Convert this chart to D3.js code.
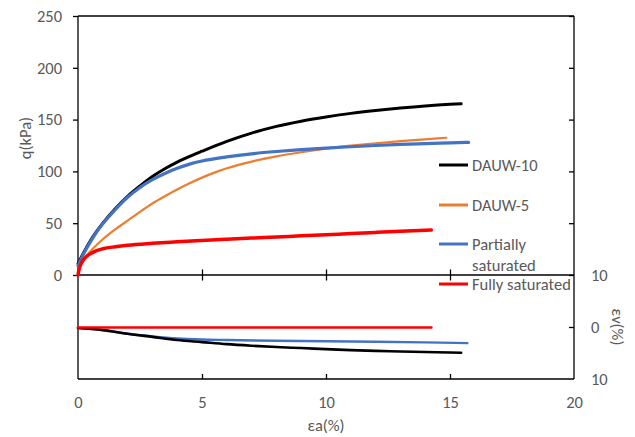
<!DOCTYPE html>
<html>
<head>
<meta charset="utf-8">
<script src="https://cdn.jsdelivr.net/npm/d3@7"></script>
<style>
  body { margin: 0; background: #fff; }
  svg { display: block; }
  text { font-family: Carlito, Lato, "Open Sans", sans-serif; fill: #595959; }
</style>
</head>
<body>
<svg id="chart" width="635" height="437"></svg>
<script>
// ---------- data ----------
const seriesNames = ["DAUW-10", "DAUW-5", "Partially saturated", "Fully saturated"];
const seriesColors = ["#000000", "#ED7D31", "#4472C4", "#FF0000"];

// deviator stress q (kPa) vs axial strain εa (%)
const dauw10Strain = [0, 0.25, 0.5, 0.75, 1, 1.5, 2, 2.5, 3, 3.5, 4, 4.5, 5, 6, 7, 8, 9, 10, 11, 12, 13, 14, 15, 15.45];
const dauw10Q      = [11, 22.5, 33, 42, 50, 64, 76, 86, 95, 102.5, 109, 114.5, 119.5, 129, 137, 143.5, 148.5, 152.5, 156, 158.8, 161.2, 163.2, 164.7, 165.2];

const dauw5Strain = [0, 0.25, 0.5, 0.75, 1, 1.5, 2, 2.5, 3, 3.5, 4, 4.5, 5, 5.5, 6, 7, 8, 9, 10, 11, 12, 13, 14, 14.85];
const dauw5Q      = [8, 16, 23, 29, 34.5, 44, 52.5, 61, 69, 76, 82.5, 88.5, 94, 98.8, 103, 109.5, 114.5, 118.5, 122, 124.8, 127.2, 129.2, 131, 132.5];

const partialStrain = [0, 0.25, 0.5, 0.75, 1, 1.5, 2, 2.5, 3, 3.5, 4, 4.5, 5, 6, 7, 8, 9, 10, 11, 12, 13, 14, 15, 15.75];
const partialQ      = [9, 21.5, 32, 41.5, 49.5, 63, 75, 84.5, 92, 98, 103, 107, 110, 114, 117, 119.2, 121, 122.5, 123.8, 125, 126, 126.8, 127.5, 128];

const fullStrain = [0, 0.05, 0.1, 0.2, 0.35, 0.5, 0.75, 1, 1.5, 2, 3, 4, 5, 6, 7, 8, 9, 10, 11, 12, 13, 14.25];
const fullQ      = [0, 6, 9.5, 14, 18, 20.5, 23.5, 25.3, 27.3, 28.8, 30.6, 32, 33.3, 34.5, 35.6, 36.7, 37.8, 38.9, 40, 41.1, 42.2, 43.4];

// volumetric strain εv (%) vs axial strain (contraction plotted downward)
const dauw10VStrain = [0, 1, 2, 3, 4, 5, 6, 7, 8, 9, 10, 11, 12, 13, 14, 15, 15.45];
const dauw10V       = [0.2, 0.6, 1.3, 1.9, 2.5, 2.9, 3.3, 3.6, 3.85, 4.05, 4.25, 4.45, 4.6, 4.7, 4.8, 4.9, 4.95];

const partialVStrain = [0, 1, 2, 3, 4, 5, 6, 8, 10, 12, 14, 15.7];
const partialV       = [0.2, 0.6, 1.3, 1.8, 2.2, 2.4, 2.5, 2.65, 2.75, 2.85, 2.95, 3.1];

const fullVStrain = [0, 14.25];
const fullV       = [0.1, 0.1];

const xTicks = [0, 5, 10, 15, 20];
const qTicks = [0, 50, 100, 150, 200, 250];
const vTicks = [-10, 0, 10];

// ---------- layout ----------
const svg = d3.select("#chart");
const pLeft = 78, pRight = 574, pTop = 16, pMid = 275, pBottom = 379;
const fs = 16.5;

const x = d3.scaleLinear().domain([0, 20]).range([pLeft, pRight]);
const yQ = d3.scaleLinear().domain([0, 250]).range([pMid, pTop]);
const yV = d3.scaleLinear().domain([-10, 10]).range([pMid, pBottom]);

const axisColor = "#000";

// frame of upper panel
svg.append("line").attr("x1", pLeft).attr("x2", pRight).attr("y1", pTop).attr("y2", pTop)
  .attr("stroke", axisColor).attr("stroke-width", 1.3);

// left q axis
const gQ = svg.append("g").attr("transform", `translate(${pLeft},0)`)
  .call(d3.axisLeft(yQ).tickValues(qTicks).tickSize(5).tickPadding(11));
// right inner ticks upper panel
const gQR = svg.append("g").attr("transform", `translate(${pRight},0)`)
  .call(d3.axisLeft(yQ).tickValues(qTicks).tickSize(5).tickFormat(""));

// lower panel left line
svg.append("line").attr("x1", pLeft).attr("x2", pLeft).attr("y1", pMid).attr("y2", pBottom)
  .attr("stroke", axisColor).attr("stroke-width", 1.3);

// right v axis
const gV = svg.append("g").attr("transform", `translate(${pRight},0)`)
  .call(d3.axisRight(yV).tickValues(vTicks).tickSize(0).tickPadding(17).tickFormat(d => Math.abs(d)));
const gVin = svg.append("g").attr("transform", `translate(${pRight},0)`)
  .call(d3.axisLeft(yV).tickValues([0]).tickSize(5).tickFormat(""));

// middle x axis (cross ticks)
const gMid = svg.append("g").attr("transform", `translate(0,${pMid})`)
  .call(d3.axisBottom(x).tickValues(xTicks.slice(1, -1)).tickSizeInner(5.5).tickSizeOuter(0).tickFormat(""));
gMid.selectAll(".tick line").attr("y1", -5.5).attr("y2", 5.5);

// bottom x axis
const gX = svg.append("g").attr("transform", `translate(0,${pBottom})`)
  .call(d3.axisBottom(x).tickValues(xTicks).tickSize(0).tickPadding(17));
const gXin = svg.append("g").attr("transform", `translate(0,${pBottom})`)
  .call(d3.axisTop(x).tickValues(xTicks.slice(1, -1)).tickSize(5).tickFormat(""));

[gQ, gQR, gV, gVin, gMid, gX, gXin].forEach(g => {
  g.selectAll(".domain").attr("stroke", axisColor).attr("stroke-width", 1.3);
  g.selectAll(".tick line").attr("stroke", axisColor).attr("stroke-width", 1.3);
  g.selectAll("text").attr("font-size", fs).attr("fill", "#595959")
    .style("font-family", "Carlito, Lato, 'Open Sans', sans-serif");
});
gQ.selectAll(".domain").remove();
svg.append("line").attr("x1", pLeft).attr("x2", pLeft).attr("y1", pTop).attr("y2", pMid)
  .attr("stroke", axisColor).attr("stroke-width", 1.3);
gQR.selectAll(".domain").attr("d", `M0,${pTop}V${pMid}`);
gV.selectAll(".domain").attr("d", `M0,${pMid}V${pBottom}`);
gVin.selectAll(".domain").remove();
gMid.selectAll(".domain").attr("d", `M${pLeft},0H${pRight}`);
gX.selectAll(".domain").attr("d", `M${pLeft},0H${pRight}`);
gXin.selectAll(".domain").remove();

// ---------- curves ----------
const lineQ = d3.line().x(d => x(d[0])).y(d => yQ(d[1])).curve(d3.curveMonotoneX);
const lineV = d3.line().x(d => x(d[0])).y(d => yV(d[1])).curve(d3.curveMonotoneX);
const zip = (a, b) => a.map((v, i) => [v, b[i]]);

const qSeries = [
  { s: dauw5Strain, v: dauw5Q, c: seriesColors[1], w: 2.2 },
  { s: dauw10Strain, v: dauw10Q, c: seriesColors[0], w: 3 },
  { s: partialStrain, v: partialQ, c: seriesColors[2], w: 3.2 },
  { s: fullStrain, v: fullQ, c: seriesColors[3], w: 3.5 }
];
qSeries.forEach(d => {
  svg.append("path").attr("d", lineQ(zip(d.s, d.v)))
    .attr("fill", "none").attr("stroke", d.c).attr("stroke-width", d.w)
    .attr("stroke-linecap", "round").attr("stroke-linejoin", "round");
});

const vSeries = [
  { s: partialVStrain, v: partialV, c: seriesColors[2], w: 2.4 },
  { s: dauw10VStrain, v: dauw10V, c: seriesColors[0], w: 2.6 },
  { s: fullVStrain, v: fullV, c: seriesColors[3], w: 2.6 }
];
vSeries.forEach(d => {
  svg.append("path").attr("d", lineV(zip(d.s, d.v)))
    .attr("fill", "none").attr("stroke", d.c).attr("stroke-width", d.w)
    .attr("stroke-linecap", "round");
});

// ---------- legend ----------
const legendY = [165, 205, 244, 284];
const legendLabels = [["DAUW-10"], ["DAUW-5"], ["Partially", "saturated"], ["Fully saturated"]];
legendLabels.forEach((lab, i) => {
  svg.append("line").attr("x1", 439).attr("x2", 468).attr("y1", legendY[i]).attr("y2", legendY[i])
    .attr("stroke", seriesColors[i]).attr("stroke-width", 3);
  lab.forEach((t, j) => {
    svg.append("text").attr("x", 472).attr("y", legendY[i] + j * 21.5)
      .attr("dy", "0.35em").attr("font-size", fs).text(t);
  });
});

// ---------- axis titles ----------
svg.append("text").attr("transform", `translate(25,138) rotate(-90)`)
  .attr("text-anchor", "middle").attr("dy", "0.35em").attr("font-size", fs).text("q(kPa)");
svg.append("text").attr("transform", `translate(618,327) rotate(90)`)
  .attr("text-anchor", "middle").attr("dy", "0.35em").attr("font-size", fs).text("εv(%)");
svg.append("text").attr("x", 326).attr("y", 425)
  .attr("text-anchor", "middle").attr("dy", "0.35em").attr("font-size", fs).text("εa(%)");
</script>
</body>
</html>
